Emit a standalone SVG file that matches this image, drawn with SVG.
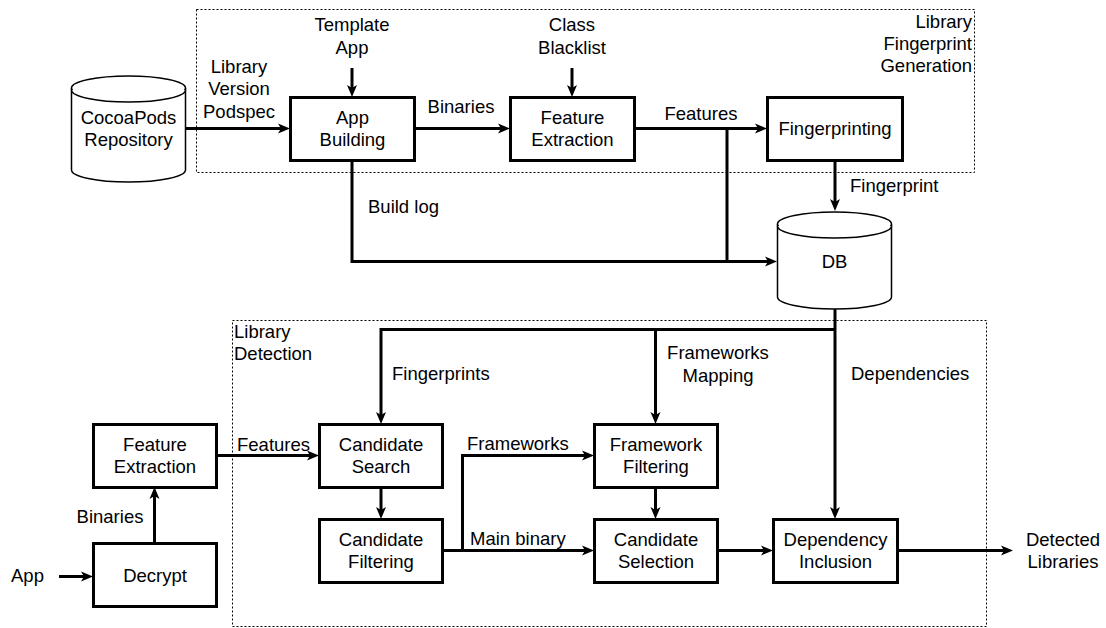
<svg xmlns="http://www.w3.org/2000/svg" width="1106" height="628" viewBox="0 0 1106 628">
<style>
text{font-family:"Liberation Sans",Arial,sans-serif;font-size:18.5px;fill:#000}
.c{text-anchor:middle}
.r{text-anchor:end}
.box{fill:#fff;stroke:#000;stroke-width:3}
.cyl{fill:#fff;stroke:#000;stroke-width:1.5}
.grp{fill:none;stroke:#000;stroke-width:1;stroke-dasharray:2 2}
.ln{fill:none;stroke:#000;stroke-width:3}
.ar{marker-end:url(#ah)}
</style>
<defs>
<marker id="ah" markerUnits="userSpaceOnUse" markerWidth="12" markerHeight="12" viewBox="0 0 12 12" refX="4" refY="6" orient="auto">
<path d="M0,1 L12,6 L0,11 L3,6 z" fill="#000"/>
</marker>
</defs>
<rect id="group-fingerprint-generation" class="grp" x="196.5" y="9.5" width="778" height="163"/>
<rect id="group-library-detection" class="grp" x="232.5" y="320.5" width="754" height="306"/>
<g id="group-labels">
<text class="r" x="972" y="28">Library</text>
<text class="r" x="972" y="50">Fingerprint</text>
<text class="r" x="972" y="72">Generation</text>
<text x="234" y="338">Library</text>
<text x="234" y="360">Detection</text>
</g>
<g id="connectors">
<path class="ln ar" d="M185,128.5 H282"/>
<path class="ln ar" d="M352,68 V89"/>
<path class="ln ar" d="M414,128.5 H502"/>
<path class="ln ar" d="M572,68 V89"/>
<path class="ln ar" d="M634,128.5 H759"/>
<path class="ln" d="M727,128.5 V261.5"/>
<path class="ln ar" d="M352,160 V261.5 H769"/>
<path class="ln ar" d="M835,160 V203"/>
<path class="ln ar" d="M835,309 V511"/>
<path class="ln ar" d="M835,329.5 H381 V416"/>
<path class="ln ar" d="M655.5,329.5 V416"/>
<path class="ln ar" d="M216,455.5 H311"/>
<path class="ln ar" d="M381,487 V511"/>
<path class="ln ar" d="M442,550.5 H586"/>
<path class="ln ar" d="M462.5,550.5 V455.5 H586"/>
<path class="ln ar" d="M655.5,487 V511"/>
<path class="ln ar" d="M717,550.5 H765"/>
<path class="ln ar" d="M897,550.5 H1005"/>
<path class="ln ar" d="M59,576.5 H85"/>
<path class="ln ar" d="M154.5,543 V495"/>
<text x="239" y="73" class="c">Library</text>
<text x="239" y="95" class="c">Version</text>
<text x="239" y="118" class="c">Podspec</text>
<text x="352" y="31" class="c">Template</text>
<text x="352" y="54" class="c">App</text>
<text x="572" y="31" class="c">Class</text>
<text x="572" y="54" class="c">Blacklist</text>
<text x="461" y="113" class="c">Binaries</text>
<text x="701" y="120" class="c">Features</text>
<text x="368" y="213">Build log</text>
<text x="850" y="192">Fingerprint</text>
<text x="392" y="380">Fingerprints</text>
<text x="718" y="359" class="c">Frameworks</text>
<text x="718" y="382" class="c">Mapping</text>
<text x="851" y="380">Dependencies</text>
<text x="237" y="451">Features</text>
<text x="467" y="450">Frameworks</text>
<text x="470" y="545">Main binary</text>
<text x="110" y="523" class="c">Binaries</text>
<text x="11" y="582">App</text>
<text x="1063" y="546" class="c">Detected</text>
<text x="1063" y="568" class="c">Libraries</text>
</g>
<g id="cocoapods">
<path class="cyl" d="M71.5,88 V170 A57,12 0 0 0 185.5,170 V88"/>
<ellipse class="cyl" cx="128.5" cy="88" rx="57" ry="12"/>
<path class="cyl" d="M71.5,90 A57,12 0 0 0 185.5,90" fill="none"/>
<text class="c" x="128.5" y="124">CocoaPods</text>
<text class="c" x="128.5" y="146">Repository</text>
</g>
<g id="db">
<path class="cyl" d="M777.5,224 V297 A57,12 0 0 0 891.5,297 V224"/>
<ellipse class="cyl" cx="834.5" cy="224" rx="57" ry="12"/>
<path class="cyl" d="M777.5,226 A57,12 0 0 0 891.5,226" fill="none"/>
<text class="c" x="834.5" y="268">DB</text>
</g>
<g id="app-building">
<rect class="box" x="290.5" y="97.5" width="124" height="63"/>
<text class="c" x="352.5" y="124">App</text>
<text class="c" x="352.5" y="146">Building</text>
</g>
<g id="feature-extraction-top">
<rect class="box" x="510.5" y="97.5" width="124" height="63"/>
<text class="c" x="572.5" y="124">Feature</text>
<text class="c" x="572.5" y="146">Extraction</text>
</g>
<g id="fingerprinting">
<rect class="box" x="767.5" y="97.5" width="135" height="63"/>
<text class="c" x="835" y="135">Fingerprinting</text>
</g>
<g id="feature-extraction-bottom">
<rect class="box" x="93.5" y="424.5" width="123" height="63"/>
<text class="c" x="155" y="451">Feature</text>
<text class="c" x="155" y="473">Extraction</text>
</g>
<g id="decrypt">
<rect class="box" x="93.5" y="543.5" width="123" height="63"/>
<text class="c" x="155" y="582">Decrypt</text>
</g>
<g id="candidate-search">
<rect class="box" x="319.5" y="424.5" width="123" height="63"/>
<text class="c" x="381" y="451">Candidate</text>
<text class="c" x="381" y="473">Search</text>
</g>
<g id="candidate-filtering">
<rect class="box" x="319.5" y="519.5" width="123" height="63"/>
<text class="c" x="381" y="546">Candidate</text>
<text class="c" x="381" y="568">Filtering</text>
</g>
<g id="framework-filtering">
<rect class="box" x="594.5" y="424.5" width="123" height="63"/>
<text class="c" x="656" y="451">Framework</text>
<text class="c" x="656" y="473">Filtering</text>
</g>
<g id="candidate-selection">
<rect class="box" x="594.5" y="519.5" width="123" height="63"/>
<text class="c" x="656" y="546">Candidate</text>
<text class="c" x="656" y="568">Selection</text>
</g>
<g id="dependency-inclusion">
<rect class="box" x="773.5" y="519.5" width="124" height="63"/>
<text class="c" x="835.5" y="546">Dependency</text>
<text class="c" x="835.5" y="568">Inclusion</text>
</g>
</svg>
